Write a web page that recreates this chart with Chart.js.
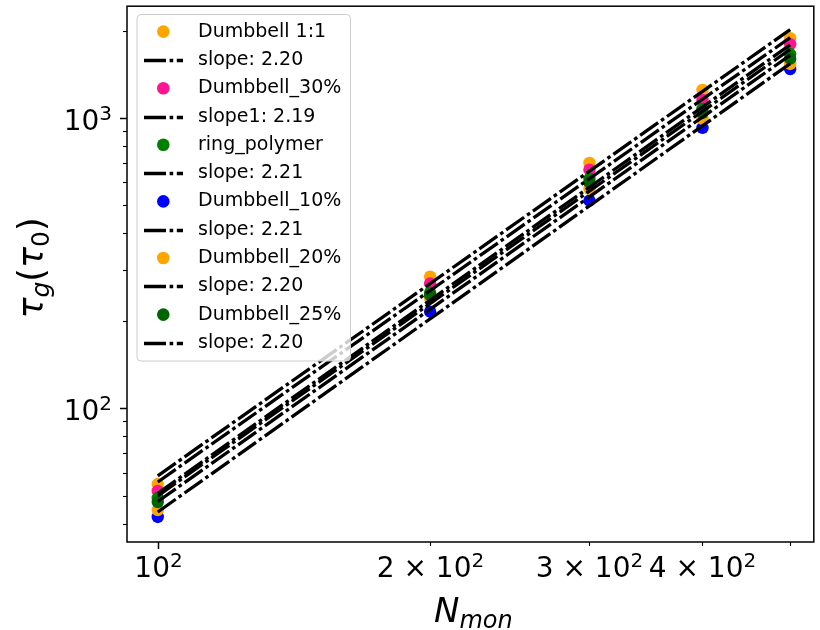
<!DOCTYPE html>
<html>
<head>
<meta charset="utf-8">
<script src="https://cdn.jsdelivr.net/npm/chart.js@4.4.1/dist/chart.umd.min.js"></script>
<style>
  html, body { margin: 0; padding: 0; background: #ffffff; }
  #wrap { width: 820px; height: 630px; position: relative; }
</style>
</head>
<body>
<div id="wrap"><canvas id="chart" width="820" height="630"></canvas></div>
<script>
// Chain length (number of monomers)
const nMon = [100, 200, 300, 400, 500];

// Glass relaxation time tau_g (in units of tau_0) per system
const tauDumbbell11 = [54.8, 284, 700, 1248, 1884];
const tauDumbbell30 = [51.9, 269, 663, 1153, 1795];
const tauRing       = [49.1, 250, 617, 1074, 1660];
const tauDumbbell10 = [42.2, 215, 519, 924, 1473];
const tauDumbbell20 = [44.6, 239, 570, 993, 1534];
const tauDumbbell25 = [47.5, 245, 600, 1040, 1600];

const seriesNames  = ['Dumbbell 1:1', 'Dumbbell_30%', 'ring_polymer', 'Dumbbell_10%', 'Dumbbell_20%', 'Dumbbell_25%'];
const seriesColors = ['#ffa500', '#ff1493', '#008000', '#0000ff', '#ffa500', '#006400'];
const seriesValues = [tauDumbbell11, tauDumbbell30, tauRing, tauDumbbell10, tauDumbbell20, tauDumbbell25];

// Power-law fits: labels and fitted tau at the ends of the fitted range
const fitLabels = ['slope: 2.20', 'slope1: 2.19', 'slope: 2.21', 'slope: 2.21', 'slope: 2.20', 'slope: 2.20'];
const fitRange  = [100, 500];
const fitStart  = [58.5, 55.7, 50.9, 43.9, 47.7, 49.9];
const fitEnd    = [2016, 1891, 1786, 1539, 1645, 1722];

// Axis ticks: [mantissa text, exponent text] for labelled ticks
const xTickValues = [100, 200, 300, 400, 500];
const xTickLabels = [['10', '2'], ['2 × 10', '2'], ['3 × 10', '2'], ['4 × 10', '2'], null];
const xMajorTicks = [100];
const yTickValues = [40, 50, 60, 70, 80, 90, 100, 200, 300, 400, 500, 600, 700, 800, 900, 1000, 2000];
const yMajorTicks = [100, 1000];
const yMajorLabels = [['10', '2'], ['10', '3']];

const FONT = '"DejaVu Sans", "Liberation Sans", sans-serif';
const TICK_FONT = '28px ' + FONT;
const SUP_FONT = '20px ' + FONT;
const SUP_RISE = 10;

const datasets = [];
seriesValues.forEach((vals, i) => {
  datasets.push({
    type: 'scatter',
    label: seriesNames[i],
    data: nMon.map((x, k) => ({ x: x, y: vals[k] })),
    backgroundColor: seriesColors[i],
    borderColor: seriesColors[i],
    borderWidth: 0,
    pointRadius: 6.2,
    pointHoverRadius: 6.2,
    order: 50 - i
  });
});
fitLabels.forEach((lab, i) => {
  datasets.push({
    type: 'line',
    label: lab,
    data: [{ x: fitRange[0], y: fitStart[i] }, { x: fitRange[1], y: fitEnd[i] }],
    borderColor: '#000000',
    borderWidth: 3.3,
    borderDash: [22, 3.6, 3.6, 3.6],
    borderCapStyle: 'butt',
    pointRadius: 0,
    fill: false,
    tension: 0,
    order: 10 - i
  });
});

// width of a label made of a mantissa and a raised exponent
function powLabelWidth(ctx, lab) {
  ctx.font = TICK_FONT;
  const w1 = ctx.measureText(lab[0]).width;
  ctx.font = SUP_FONT;
  return w1 + ctx.measureText(lab[1]).width;
}
function drawPowLabel(ctx, lab, x, baseline) {
  ctx.font = TICK_FONT;
  ctx.fillText(lab[0], x, baseline);
  const w1 = ctx.measureText(lab[0]).width;
  ctx.font = SUP_FONT;
  ctx.fillText(lab[1], x + w1, baseline - SUP_RISE);
}

// Frame, tick marks, tick labels and axis titles
const framePlugin = {
  id: 'frameAndTicks',
  afterDatasetsDraw(chart) {
    const ctx = chart.ctx, a = chart.chartArea;
    const xs = chart.scales.x, ys = chart.scales.y;
    ctx.save();
    ctx.strokeStyle = '#000';
    ctx.fillStyle = '#000';
    ctx.lineWidth = 1.5;
    ctx.strokeRect(a.left, a.top, a.right - a.left, a.bottom - a.top);
    ctx.textAlign = 'left';
    ctx.textBaseline = 'alphabetic';
    xTickValues.forEach((v, i) => {
      const major = xMajorTicks.includes(v);
      const px = Math.round(xs.getPixelForValue(v)) + 0.5;
      ctx.lineWidth = major ? 1.5 : 1.1;
      ctx.beginPath();
      ctx.moveTo(px, a.bottom);
      ctx.lineTo(px, a.bottom + (major ? 7 : 4));
      ctx.stroke();
      const lab = xTickLabels[i];
      if (lab) {
        const w = powLabelWidth(ctx, lab);
        drawPowLabel(ctx, lab, px - w / 2, a.bottom + 35);
      }
    });
    yTickValues.forEach(v => {
      const major = yMajorTicks.includes(v);
      const py = Math.round(ys.getPixelForValue(v)) + 0.5;
      ctx.lineWidth = major ? 1.5 : 1.1;
      ctx.beginPath();
      ctx.moveTo(a.left, py);
      ctx.lineTo(a.left - (major ? 7 : 4), py);
      ctx.stroke();
      const k = yMajorTicks.indexOf(v);
      if (k >= 0) {
        const lab = yMajorLabels[k];
        const w = powLabelWidth(ctx, lab);
        drawPowLabel(ctx, lab, a.left - 15 - w, py + 11);
      }
    });
    ctx.restore();
  },
  afterDraw(chart) {
    const ctx = chart.ctx, a = chart.chartArea;
    const drawRuns = (runs, x, y) => {
      let cx = x;
      runs.forEach(r => {
        ctx.font = r.font;
        ctx.fillText(r.t, cx, y + (r.dy || 0));
        cx += ctx.measureText(r.t).width;
      });
    };
    const runsWidth = runs => runs.reduce((w, r) => { ctx.font = r.font; return w + ctx.measureText(r.t).width; }, 0);
    ctx.save();
    ctx.fillStyle = '#000';
    ctx.textBaseline = 'alphabetic';
    ctx.textAlign = 'left';
    // x title: N_mon
    const xRuns = [
      { t: 'N', font: 'italic 34px ' + FONT },
      { t: 'mon', font: 'italic 24px ' + FONT, dy: 6 }
    ];
    const xw = runsWidth(xRuns);
    drawRuns(xRuns, (a.left + a.right) / 2 - xw / 2 + 3, 622);
    // y title: tau_g(tau_0)
    const yRuns = [
      { t: 'τ', font: 'italic 35px ' + FONT },
      { t: 'g', font: 'italic 25px ' + FONT, dy: 6 },
      { t: '(', font: '35px ' + FONT },
      { t: 'τ', font: 'italic 35px ' + FONT },
      { t: '0', font: '25px ' + FONT, dy: 6 },
      { t: ')', font: '35px ' + FONT }
    ];
    const yw = runsWidth(yRuns);
    ctx.translate(43, 268);
    ctx.rotate(-Math.PI / 2);
    drawRuns(yRuns, -yw / 2, 0);
    ctx.restore();

    // Legend box
    const box = { x: 137, y: 14.5, w: 213.5, h: 346.5, r: 4 };
    ctx.save();
    ctx.beginPath();
    ctx.moveTo(box.x + box.r, box.y);
    ctx.arcTo(box.x + box.w, box.y, box.x + box.w, box.y + box.h, box.r);
    ctx.arcTo(box.x + box.w, box.y + box.h, box.x, box.y + box.h, box.r);
    ctx.arcTo(box.x, box.y + box.h, box.x, box.y, box.r);
    ctx.arcTo(box.x, box.y, box.x + box.w, box.y, box.r);
    ctx.closePath();
    ctx.fillStyle = 'rgba(255,255,255,0.8)';
    ctx.fill();
    ctx.strokeStyle = '#cccccc';
    ctx.lineWidth = 1;
    ctx.stroke();

    const rowTop = 31.6, rowStep = 28.3;
    ctx.font = '19px ' + FONT;
    ctx.textBaseline = 'middle';
    ctx.textAlign = 'left';
    let row = 0;
    seriesNames.forEach((name, i) => {
      const y1 = rowTop + rowStep * row++;
      ctx.fillStyle = seriesColors[i];
      ctx.beginPath();
      ctx.arc(163.3, y1, 6.3, 0, Math.PI * 2);
      ctx.fill();
      ctx.fillStyle = '#000';
      ctx.fillText(name, 198, y1);
      const y2 = Math.round(rowTop + rowStep * row++) + 0.5;
      ctx.save();
      ctx.strokeStyle = '#000';
      ctx.lineWidth = 3.3;
      ctx.setLineDash([22, 3.6, 3.6, 3.6]);
      ctx.beginPath();
      ctx.moveTo(144, y2);
      ctx.lineTo(183, y2);
      ctx.stroke();
      ctx.restore();
      ctx.fillText(fitLabels[i], 198, y2);
    });
    ctx.restore();
  }
};

const noPad = s => { s.paddingTop = 0; s.paddingBottom = 0; s.paddingLeft = 0; s.paddingRight = 0; };

new Chart(document.getElementById('chart'), {
  type: 'scatter',
  data: { datasets: datasets },
  options: {
    responsive: false,
    animation: false,
    events: [],
    layout: { padding: { left: 0, right: 2, top: 5, bottom: 0 } },
    plugins: { legend: { display: false }, tooltip: { enabled: false }, title: { display: false } },
    scales: {
      x: {
        type: 'logarithmic',
        position: 'bottom',
        min: 92.47,
        max: 531.0,
        bounds: 'data',
        grid: { display: false, drawTicks: false },
        border: { display: false },
        ticks: { display: false, autoSkip: false, maxRotation: 0, minRotation: 0 },
        afterBuildTicks: s => { s.ticks = xTickValues.map(v => ({ value: v })); },
        afterFit: s => { s.height = 88; noPad(s); }
      },
      y: {
        type: 'logarithmic',
        position: 'left',
        min: 34.6,
        max: 2426,
        bounds: 'data',
        grid: { display: false, drawTicks: false },
        border: { display: false },
        ticks: { display: false, autoSkip: false },
        afterBuildTicks: s => { s.ticks = yTickValues.map(v => ({ value: v })); },
        afterFit: s => { s.width = 127; noPad(s); }
      }
    }
  },
  plugins: [framePlugin]
});
</script>
</body>
</html>
